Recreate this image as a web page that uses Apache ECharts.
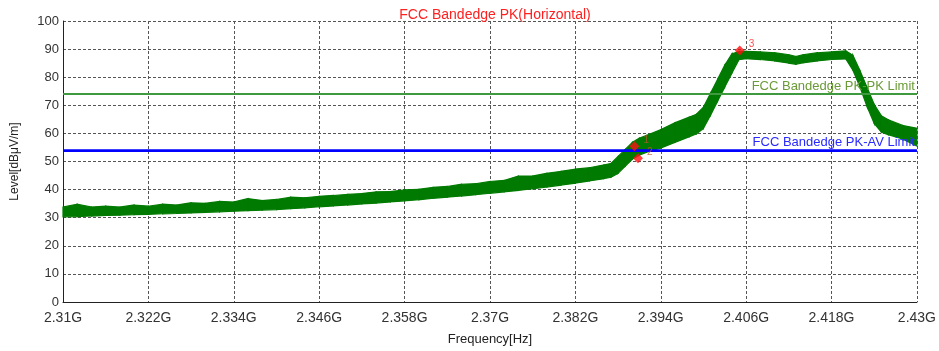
<!DOCTYPE html>
<html>
<head>
<meta charset="utf-8">
<script src="https://cdn.jsdelivr.net/npm/echarts@6/dist/echarts.min.js"></script>
<style>html,body{margin:0;padding:0;background:#fff}#c{width:939px;height:351px}</style>
</head>
<body>
<div id="c"></div>
<script>
// Frequencies in MHz
var freqMHz = [2310,2312,2314,2316,2318,2320,2322,2324,2326,2328,2330,2332,2334,2336,2338,2340,2342,2344,2346,2348,2350,2352,2354,2356,2358,2360,2362,2364,2366,2368,2370,2372,2374,2376,2378,2380,2382,2384,2386,2387,2388,2389,2390,2391,2392,2394,2396,2398,2399,2400,2401,2402,2403,2404,2405,2406,2408,2410,2412,2413,2414,2416,2418,2420,2421,2422,2423,2424,2425,2426,2428,2430];
// Lower envelope of the measured trace (dBuV/m)
var levelLow = [30.3,30.4,30.6,30.8,30.9,31.1,31.2,31.4,31.5,31.7,31.9,32.1,32.3,32.5,32.7,32.9,33.2,33.5,33.9,34.2,34.5,34.9,35.2,35.6,36,36.4,36.9,37.3,37.7,38.2,38.7,39.2,39.7,40.3,40.9,41.6,42.3,43.1,43.9,44.4,45.8,48.3,50.8,52.3,53.3,54.8,56.8,58.8,59.8,61.8,66.5,71.5,76.5,81.5,86.3,86.6,86.3,85.8,85,84.6,85.1,85.8,86.3,86.5,82.5,76.5,69.5,63.5,60.5,59.5,58,55.5];
// Upper envelope of the measured trace (dBuV/m)
var levelHigh = [33.8,34.8,33.8,34.1,33.8,34.5,34.1,34.8,34.5,35.3,35.1,35.8,35.6,36.8,36.1,36.5,37.3,37.1,37.6,37.9,38.3,38.6,39.2,39.3,39.9,40.1,40.8,41.1,41.9,42.1,42.9,43.3,44.8,44.8,45.8,46.5,47.3,47.8,48.8,49.3,51.8,54.3,56.8,58.3,59.3,61.3,63.8,65.8,66.8,69.3,74.3,79.3,84.3,88.3,89.2,89.2,89,88.7,88,87.4,88,88.7,89,89.4,87.8,82.3,76.3,70.3,66.3,64.8,62.8,61.8];
var pkLimit = 74;
var avLimit = 54;
var markerNames = ['1','2','3'];
var markerFreqMHz = [2390.3, 2390.8, 2405.1];
var markerLevel = [55.4, 51.2, 89.5];
var xTickStartMHz = 2310;

var chart = echarts.init(document.getElementById('c'));
var bandData = freqMHz.map(function(f,i){return [f - xTickStartMHz, levelLow[i], levelHigh[i]];});
var marks = markerNames.map(function(n,i){return {name:n, value:[markerFreqMHz[i]-xTickStartMHz, markerLevel[i]], label:{color: i<2 ? '#b85a2a' : '#ff2020'}};});
var traceGreen = '#007a00';
var FONT = 'Liberation Sans, Arial, sans-serif';

function renderBand(params, api){
  var i = params.dataIndex;
  if (i >= bandData.length - 1) return null;
  var a = bandData[i], b = bandData[i+1];
  var pts = [api.coord([a[0], a[1]]), api.coord([a[0], a[2]]), api.coord([b[0], b[2]]), api.coord([b[0], b[1]])];
  return {type:'polygon', shape:{points:pts}, style:{fill:traceGreen, stroke:traceGreen, lineWidth:1.2}};
}

chart.setOption({
  animation:false,
  title:{text:'FCC Bandedge PK(Horizontal)', left:490, top:3, textAlign:'center',
    textStyle:{color:'#ff2020', fontSize:14, fontWeight:'normal', fontFamily:FONT}},
  grid:{left:63, right:21, top:21, bottom:47},
  xAxis:{type:'value', min:0, max:120, interval:12,
    name:'Frequency[Hz]', nameLocation:'middle', nameGap:31,
    nameTextStyle:{color:'#222', fontSize:13, fontFamily:FONT},
    axisLine:{show:true, onZero:false, lineStyle:{color:'#222', width:1}},
    axisTick:{show:false},
    axisLabel:{color:'#333', fontSize:14, fontFamily:FONT, margin:9,
      formatter:function(v){return parseFloat(((v+xTickStartMHz)/1000).toFixed(3))+'G';}},
    splitLine:{show:true, lineStyle:{color:'#555', type:[3,2], width:1}}},
  yAxis:{type:'value', min:0, max:100, interval:10,
    name:'Level[dBμV/m]', nameLocation:'middle', nameGap:42, nameRotate:90,
    nameTextStyle:{color:'#222', fontSize:12, fontFamily:FONT},
    axisLine:{show:true, lineStyle:{color:'#222', width:1}},
    axisTick:{show:false},
    axisLabel:{color:'#333', fontSize:13, fontFamily:FONT, margin:4},
    splitLine:{show:true, lineStyle:{color:'#555', type:[3,2], width:1}}},
  series:[
    {type:'line', name:'pk', data:[[0,pkLimit],[120,pkLimit]], symbol:'none', z:1,
      lineStyle:{color:'#3f9a3f', width:2},
      markLine:{symbol:'none', silent:true, lineStyle:{color:'#3f9a3f', width:2, type:'solid'},
        data:[{yAxis:pkLimit}],
        label:{show:true, position:'insideEndTop', distance:[2,1], color:'#6b9b37', fontSize:13, fontFamily:FONT, formatter:'FCC Bandedge PK-PK Limit'}}},
    {type:'custom', name:'trace', data:bandData, renderItem:renderBand, z:3, encode:{x:0, y:[1,2]}},
    {type:'line', name:'av', data:[[0,avLimit],[120,avLimit]], symbol:'none', z:4,
      lineStyle:{color:'#0000ff', width:2},
      markLine:{symbol:'none', silent:true, lineStyle:{color:'#0000ff', width:2, type:'solid'},
        data:[{yAxis:avLimit}],
        label:{show:true, position:'insideEndTop', distance:[2,1], color:'#2a2aff', fontSize:13, fontFamily:FONT, formatter:'FCC Bandedge PK-AV Limit'}}},
    {type:'scatter', name:'markers', data:marks, symbol:'diamond', symbolSize:10, z:6,
      itemStyle:{color:'#ff1010'},
      label:{show:true, formatter:'{b}', position:'right', offset:[-1,-6], fontSize:10, fontFamily:FONT}}
  ]
});
</script>
</body>
</html>
